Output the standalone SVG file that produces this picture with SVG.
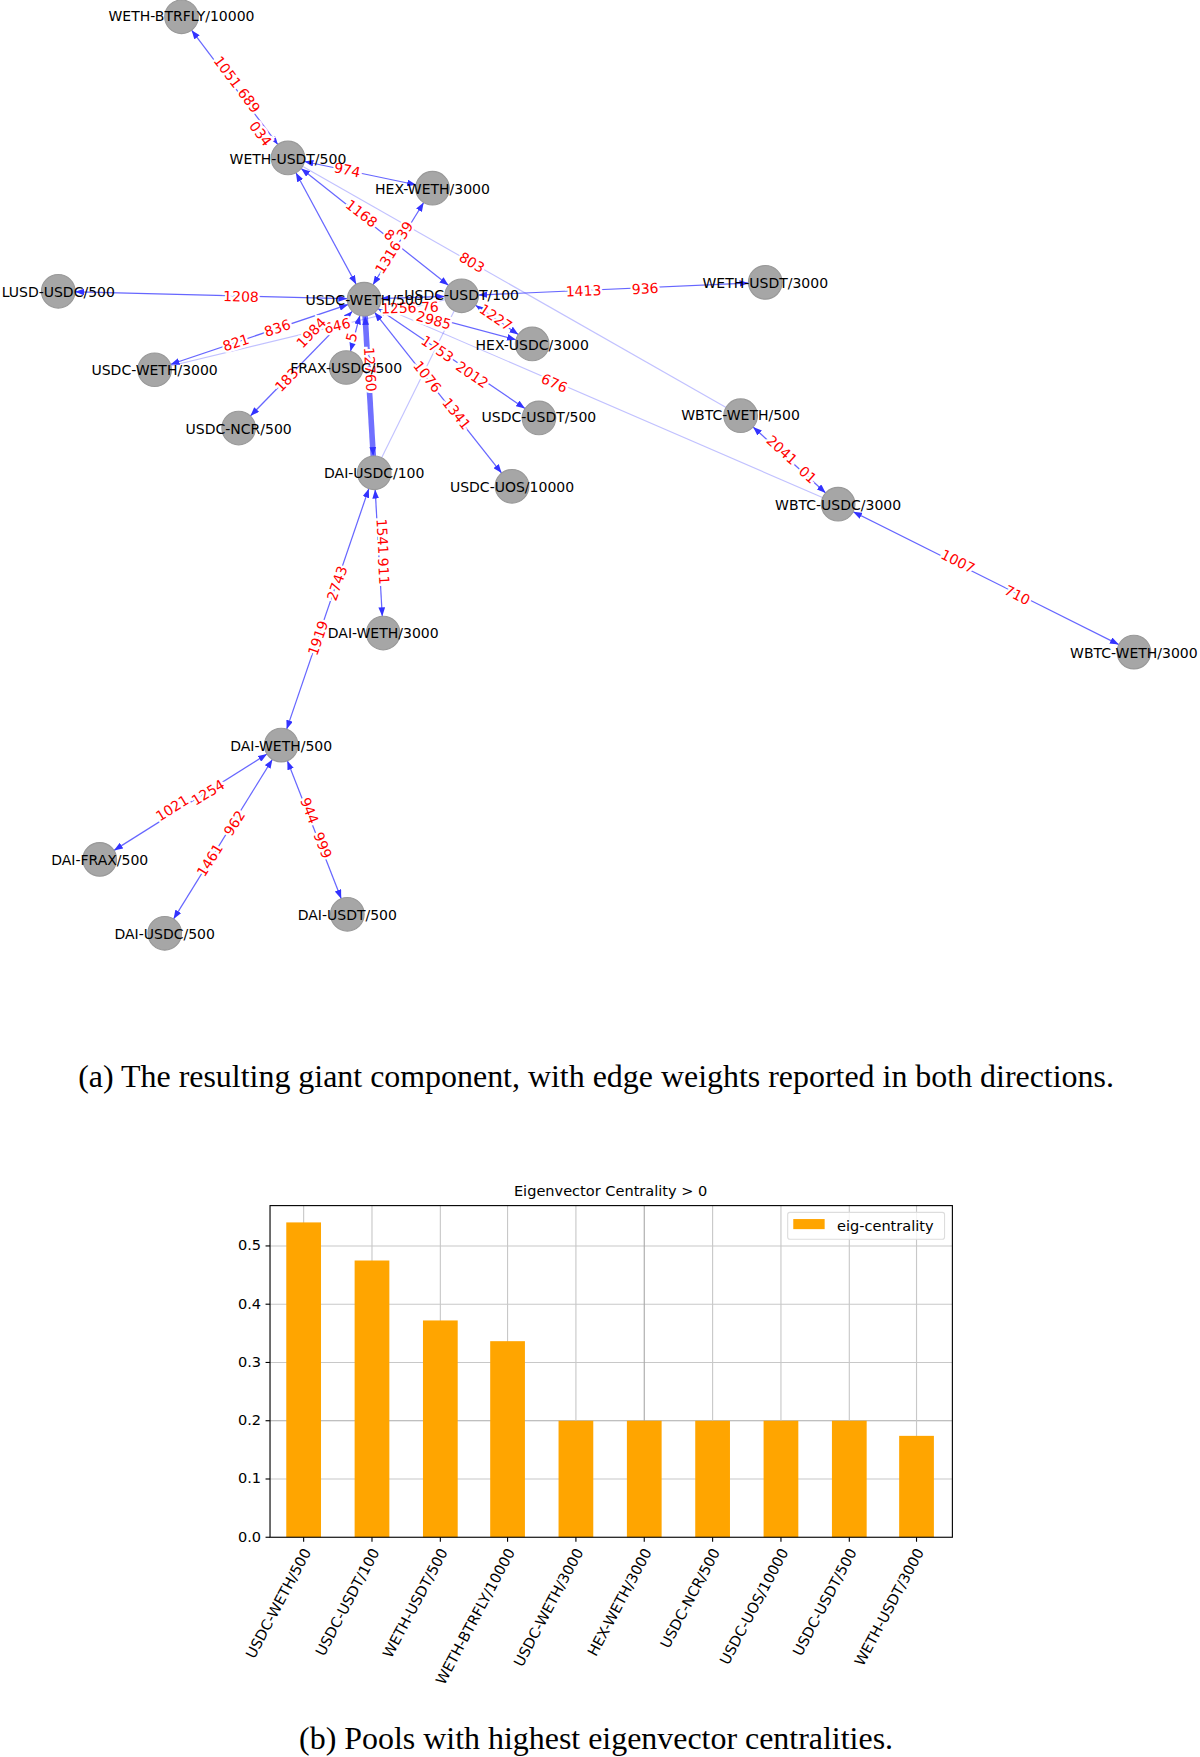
<svg xmlns="http://www.w3.org/2000/svg" width="1200" height="1757" viewBox="0 0 1200 1757">
<style>
.e{stroke:#3333ff;stroke-opacity:.75;stroke-width:1.1;fill:none;marker-start:url(#a);marker-end:url(#a)}
.f{stroke:#3333ff;stroke-opacity:.3;stroke-width:1;fill:none}
.n circle{fill:#a6a6a6;stroke:#999;stroke-width:1}
.n text{font-family:"DejaVu Sans",sans-serif;font-size:12.5px;text-anchor:middle;fill:#000}
.l{font-family:"DejaVu Sans",sans-serif;font-size:12.5px;fill:#ff0000;text-anchor:middle;stroke:#fff;stroke-width:4;paint-order:stroke}
.t{font-family:"DejaVu Sans",sans-serif;font-size:13px;fill:#000}
.cap{font-family:"Liberation Serif",serif;font-size:28.5px;text-anchor:middle;fill:#000}
.g{stroke:#c8c8c8;stroke-width:1}
.bar{fill:#ffa500}
</style>
<defs>
<marker id="a" viewBox="0 0 8 6" markerWidth="8" markerHeight="6" refX="23" refY="3" orient="auto-start-reverse" markerUnits="userSpaceOnUse"><path d="M0,0 L8,3 L0,6 z" fill="#3333ff"/></marker>
</defs>
<rect width="1200" height="1757" fill="#fff"/>
<g transform="scale(1.12045)">
<g id="connectors">
<line class="e" x1="162" y1="15" x2="257" y2="141"/>
<line class="e" x1="257" y1="141" x2="325" y2="267"/>
<line class="e" x1="386" y1="168" x2="257" y2="141"/>
<line class="e" x1="257" y1="141" x2="412" y2="264"/>
<line class="e" x1="325" y1="267" x2="386" y2="168"/>
<line class="f" x1="257" y1="141" x2="661" y2="371"/>
<line class="e" x1="52" y1="260" x2="325" y2="267"/>
<line class="e" x1="412" y1="264" x2="683" y2="252"/>
<line class="e" x1="325" y1="267" x2="412" y2="264"/>
<line class="e" x1="412" y1="264" x2="475" y2="307"/>
<line class="e" x1="325" y1="267" x2="475" y2="307"/>
<line class="e" x1="325" y1="267" x2="138" y2="330"/>
<line class="f" x1="412" y1="264" x2="138" y2="330"/>
<line class="e" x1="325" y1="267" x2="213" y2="382"/>
<line class="e" x1="325" y1="267" x2="309" y2="328"/>
<line x1="325" y1="267" x2="334" y2="422" stroke="#3333ff" stroke-opacity=".7" stroke-width="5" marker-start="url(#a)" marker-end="url(#a)"/>
<line class="e" x1="325" y1="267" x2="481" y2="373"/>
<line class="e" x1="325" y1="267" x2="457" y2="434"/>
<line class="f" x1="325" y1="267" x2="748" y2="450"/>
<line class="f" x1="334" y1="422" x2="412" y2="264"/>
<line class="e" x1="661" y1="371" x2="748" y2="450"/>
<line class="e" x1="748" y1="450" x2="1012" y2="582"/>
<line class="e" x1="334" y1="422" x2="342" y2="565"/>
<line class="e" x1="251" y1="665" x2="334" y2="422"/>
<line class="e" x1="89" y1="767" x2="251" y2="665"/>
<line class="e" x1="147" y1="833" x2="251" y2="665"/>
<line class="e" x1="251" y1="665" x2="310" y2="816"/>
</g>
<g id="edge-labels">
<text class="l" transform="translate(208,78) rotate(53)">1051 689</text>
<text class="l" transform="translate(229,122) rotate(53)">034</text>
<text class="l" transform="translate(309,156) rotate(12)">974</text>
<text class="l" transform="translate(320,194) rotate(38)">1168</text>
<text class="l" transform="translate(345,213) rotate(38)">8</text>
<text class="l" transform="translate(350,232) rotate(-58)">1316</text>
<text class="l" transform="translate(365,208) rotate(-58)">39</text>
<text class="l" transform="translate(419,238) rotate(30)">803</text>
<text class="l" transform="translate(215,269) rotate(1.5)">1208</text>
<text class="l" transform="translate(521,264) rotate(-2.5)">1413</text>
<text class="l" transform="translate(576,262) rotate(-2.5)">936</text>
<text class="l" transform="translate(366,279) rotate(-2)">1256 76</text>
<text class="l" transform="translate(440,287) rotate(34)">1227</text>
<text class="l" transform="translate(386,290) rotate(15)">2985</text>
<text class="l" transform="translate(212,310) rotate(-18.6)">821</text>
<text class="l" transform="translate(249,297) rotate(-18.6)">836</text>
<text class="l" transform="translate(302,295) rotate(-13.5)">646</text>
<text class="l" transform="translate(281,300) rotate(-45.8)">1984</text>
<text class="l" transform="translate(259,342) rotate(-45.8)">183</text>
<text class="l" transform="translate(318,302) rotate(-75)">5</text>
<text class="l" transform="translate(326,330) rotate(86.7)">12760</text>
<text class="l" transform="translate(388,315) rotate(34)">1753</text>
<text class="l" transform="translate(419,338) rotate(34)">2012</text>
<text class="l" transform="translate(378,339) rotate(51.7)">1076</text>
<text class="l" transform="translate(404,372) rotate(51.7)">1341</text>
<text class="l" transform="translate(493,346) rotate(23.4)">676</text>
<text class="l" transform="translate(695,405) rotate(42)">2041</text>
<text class="l" transform="translate(718,427) rotate(42)">01</text>
<text class="l" transform="translate(853,505) rotate(26.6)">1007</text>
<text class="l" transform="translate(906,535) rotate(26.6)">710</text>
<text class="l" transform="translate(337,479) rotate(86.8)">1541</text>
<text class="l" transform="translate(338,510) rotate(86.8)">911</text>
<text class="l" transform="translate(305,522) rotate(-71)">2743</text>
<text class="l" transform="translate(288,571) rotate(-71)">1919</text>
<text class="l" transform="translate(156,725) rotate(-32)">1021</text>
<text class="l" transform="translate(188,711) rotate(-32)">1254</text>
<text class="l" transform="translate(191,770) rotate(-58)">1461</text>
<text class="l" transform="translate(213,737) rotate(-58)">962</text>
<text class="l" transform="translate(272,725) rotate(68.7)">944</text>
<text class="l" transform="translate(284,756) rotate(68.7)">999</text>
</g>
<g id="n-weth-btrfly-10000" class="n"><circle cx="162" cy="15" r="15"/><text x="162" y="19">WETH-BTRFLY/10000</text></g>
<g id="n-weth-usdt-500" class="n"><circle cx="257" cy="141" r="15"/><text x="257" y="146">WETH-USDT/500</text></g>
<g id="n-hex-weth-3000" class="n"><circle cx="386" cy="168" r="15"/><text x="386" y="173">HEX-WETH/3000</text></g>
<g id="n-lusd-usdc-500" class="n"><circle cx="52" cy="260" r="15"/><text x="52" y="265">LUSD-USDC/500</text></g>
<g id="n-usdc-weth-500" class="n"><circle cx="325" cy="267" r="15"/><text x="325" y="272">USDC-WETH/500</text></g>
<g id="n-usdc-usdt-100" class="n"><circle cx="412" cy="264" r="15"/><text x="412" y="268">USDC-USDT/100</text></g>
<g id="n-weth-usdt-3000" class="n"><circle cx="683" cy="252" r="15"/><text x="683" y="257">WETH-USDT/3000</text></g>
<g id="n-hex-usdc-3000" class="n"><circle cx="475" cy="307" r="15"/><text x="475" y="312">HEX-USDC/3000</text></g>
<g id="n-usdc-weth-3000" class="n"><circle cx="138" cy="330" r="15"/><text x="138" y="335">USDC-WETH/3000</text></g>
<g id="n-frax-usdc-500" class="n"><circle cx="309" cy="328" r="15"/><text x="309" y="333">FRAX-USDC/500</text></g>
<g id="n-usdc-ncr-500" class="n"><circle cx="213" cy="382" r="15"/><text x="213" y="387">USDC-NCR/500</text></g>
<g id="n-usdc-usdt-500" class="n"><circle cx="481" cy="373" r="15"/><text x="481" y="377">USDC-USDT/500</text></g>
<g id="n-wbtc-weth-500" class="n"><circle cx="661" cy="371" r="15"/><text x="661" y="375">WBTC-WETH/500</text></g>
<g id="n-dai-usdc-100" class="n"><circle cx="334" cy="422" r="15"/><text x="334" y="427">DAI-USDC/100</text></g>
<g id="n-usdc-uos-10000" class="n"><circle cx="457" cy="434" r="15"/><text x="457" y="439">USDC-UOS/10000</text></g>
<g id="n-wbtc-usdc-3000" class="n"><circle cx="748" cy="450" r="15"/><text x="748" y="455">WBTC-USDC/3000</text></g>
<g id="n-dai-weth-3000" class="n"><circle cx="342" cy="565" r="15"/><text x="342" y="569">DAI-WETH/3000</text></g>
<g id="n-wbtc-weth-3000" class="n"><circle cx="1012" cy="582" r="15"/><text x="1012" y="587">WBTC-WETH/3000</text></g>
<g id="n-dai-weth-500" class="n"><circle cx="251" cy="665" r="15"/><text x="251" y="670">DAI-WETH/500</text></g>
<g id="n-dai-frax-500" class="n"><circle cx="89" cy="767" r="15"/><text x="89" y="772">DAI-FRAX/500</text></g>
<g id="n-dai-usdt-500" class="n"><circle cx="310" cy="816" r="15"/><text x="310" y="821">DAI-USDT/500</text></g>
<g id="n-dai-usdc-500" class="n"><circle cx="147" cy="833" r="15"/><text x="147" y="838">DAI-USDC/500</text></g>
<text class="cap" x="532" y="970">(a) The resulting giant component, with edge weights reported in both directions.</text>

<g id="chart">
<text class="t" x="545" y="1067" text-anchor="middle" font-size="15.5">Eigenvector Centrality &gt; 0</text>
<g class="g">
<line x1="241" y1="1320" x2="850" y2="1320"/><line x1="241" y1="1268" x2="850" y2="1268" stroke="#aaa"/><line x1="241" y1="1216" x2="850" y2="1216"/><line x1="241" y1="1164" x2="850" y2="1164"/><line x1="241" y1="1112" x2="850" y2="1112"/>
<line x1="271" y1="1076" x2="271" y2="1372"/><line x1="332" y1="1076" x2="332" y2="1372"/><line x1="393" y1="1076" x2="393" y2="1372"/><line x1="453" y1="1076" x2="453" y2="1372"/><line x1="514" y1="1076" x2="514" y2="1372"/><line x1="575" y1="1076" x2="575" y2="1372" stroke="#aaa"/><line x1="636" y1="1076" x2="636" y2="1372"/><line x1="697" y1="1076" x2="697" y2="1372"/><line x1="758" y1="1076" x2="758" y2="1372"/><line x1="818" y1="1076" x2="818" y2="1372"/>
</g>
<g class="bar">
<rect x="255.5" y="1091" width="31" height="281"/>
<rect x="316.5" y="1125" width="31" height="247"/>
<rect x="377.5" y="1178.5" width="31" height="193.5"/>
<rect x="437.5" y="1197" width="31" height="175"/>
<rect x="498.5" y="1268" width="31" height="104"/>
<rect x="559.5" y="1268" width="31" height="104"/>
<rect x="620.5" y="1268" width="31" height="104"/>
<rect x="681.5" y="1268" width="31" height="104"/>
<rect x="742.5" y="1268" width="31" height="104"/>
<rect x="802.5" y="1281.5" width="31" height="90.5"/>
</g>
<rect x="241" y="1076" width="609" height="296" fill="none" stroke="#000" stroke-width="1"/>
<g stroke="#000">
<line x1="237" y1="1372" x2="241" y2="1372"/><line x1="237" y1="1320" x2="241" y2="1320"/><line x1="237" y1="1268" x2="241" y2="1268"/><line x1="237" y1="1216" x2="241" y2="1216"/><line x1="237" y1="1164" x2="241" y2="1164"/><line x1="237" y1="1112" x2="241" y2="1112"/>
<line x1="271" y1="1372" x2="271" y2="1376"/><line x1="332" y1="1372" x2="332" y2="1376"/><line x1="393" y1="1372" x2="393" y2="1376"/><line x1="453" y1="1372" x2="453" y2="1376"/><line x1="514" y1="1372" x2="514" y2="1376"/><line x1="575" y1="1372" x2="575" y2="1376"/><line x1="636" y1="1372" x2="636" y2="1376"/><line x1="697" y1="1372" x2="697" y2="1376"/><line x1="758" y1="1372" x2="758" y2="1376"/><line x1="818" y1="1372" x2="818" y2="1376"/>
</g>
<g class="t" text-anchor="end">
<text x="233" y="1376">0.0</text><text x="233" y="1324">0.1</text><text x="233" y="1272">0.2</text><text x="233" y="1220">0.3</text><text x="233" y="1168">0.4</text><text x="233" y="1116">0.5</text>
</g>
<g class="t" text-anchor="end" font-size="13.5">
<text transform="translate(278,1385) rotate(-62)">USDC-WETH/500</text>
<text transform="translate(339,1385) rotate(-62)">USDC-USDT/100</text>
<text transform="translate(400,1385) rotate(-62)">WETH-USDT/500</text>
<text transform="translate(460,1385) rotate(-62)">WETH-BTRFLY/10000</text>
<text transform="translate(521,1385) rotate(-62)">USDC-WETH/3000</text>
<text transform="translate(582,1385) rotate(-62)">HEX-WETH/3000</text>
<text transform="translate(643,1385) rotate(-62)">USDC-NCR/500</text>
<text transform="translate(704,1385) rotate(-62)">USDC-UOS/10000</text>
<text transform="translate(765,1385) rotate(-62)">USDC-USDT/500</text>
<text transform="translate(825,1385) rotate(-62)">WETH-USDT/3000</text>
</g>
<g id="legend">
<rect x="703" y="1082" width="140" height="24" rx="2" fill="#fff" fill-opacity=".8" stroke="#ddd"/>
<rect x="708" y="1088" width="28" height="9" fill="#ffa500"/>
<text class="t" x="747" y="1099" font-size="14">eig-centrality</text>
</g>
</g>
<text class="cap" x="532" y="1561">(b) Pools with highest eigenvector centralities.</text>
</g>
</svg>
